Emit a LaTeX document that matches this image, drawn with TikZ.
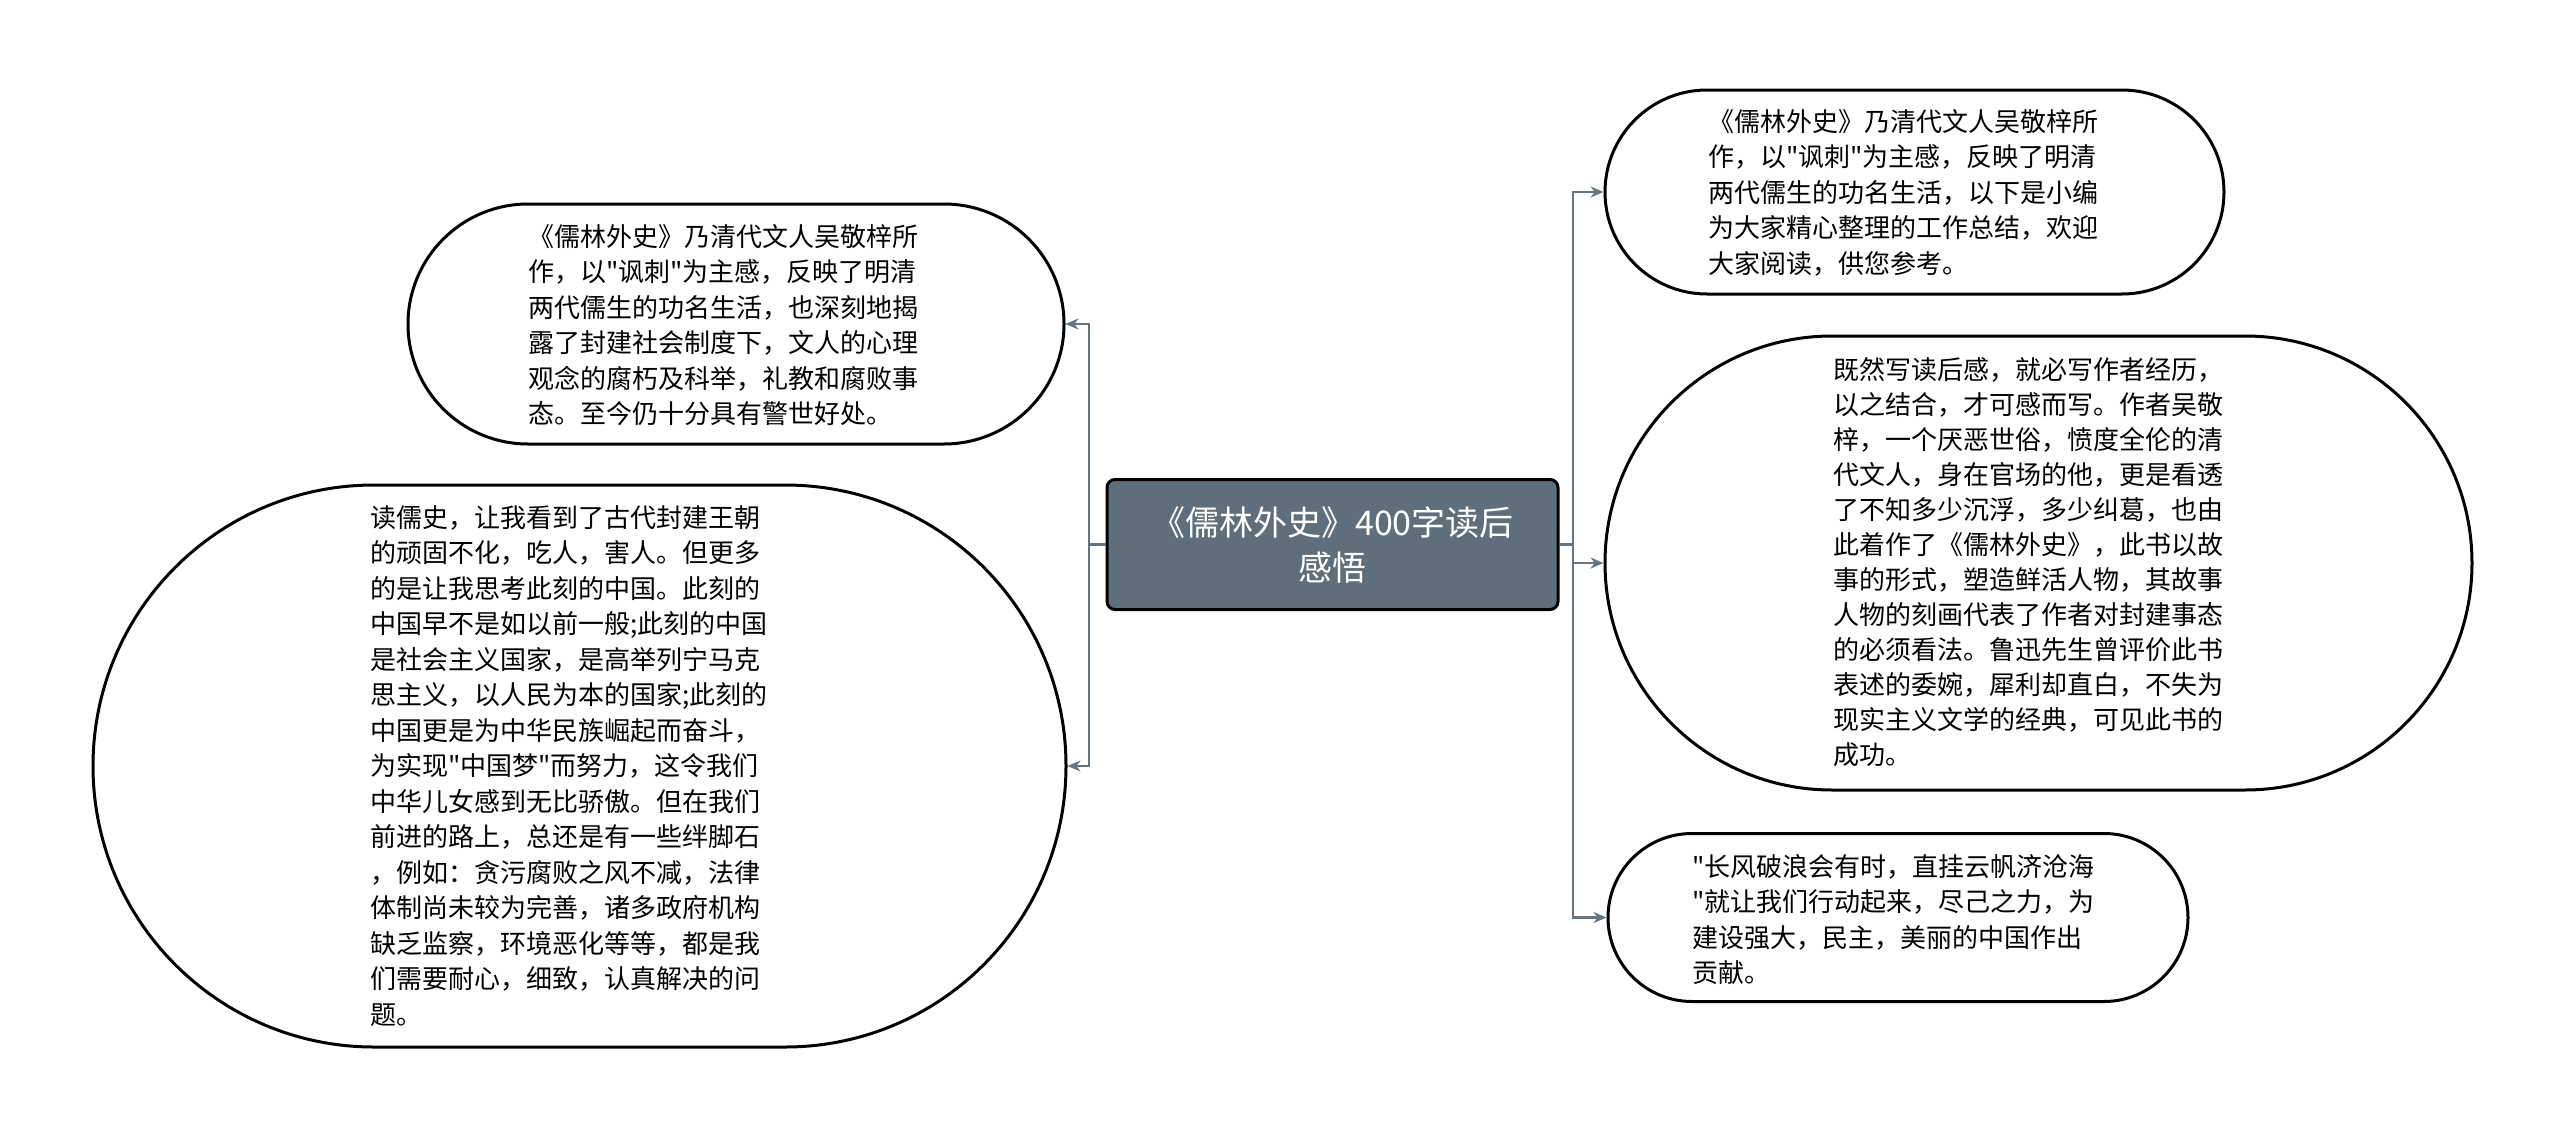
\documentclass[tikz,border=0pt]{standalone}
\usepackage{fontspec}
\setmainfont{Noto Sans CJK SC}[Ligatures=TeXOff]
\usetikzlibrary{shapes.misc,arrows.meta}
\definecolor{hub}{RGB}{94,110,122}
\definecolor{link}{RGB}{100,116,128}
\begin{document}
\begin{tikzpicture}[x=1pt,y=-1pt,
  bubble/.style={rounded rectangle, draw=black, line width=3pt, fill=white, inner sep=0pt},
  txt/.style={anchor=north west, inner sep=0pt, align=left, font=\fontsize{26}{35.5}\selectfont},
  conn/.style={draw=link, line width=2.5pt, -{Stealth[length=13pt,width=11pt]}},
  trunk/.style={draw=link, line width=2.5pt},
  hubbox/.style={rectangle, rounded corners=8pt, draw=black, line width=3pt, fill=hub, text=white,
    minimum width=451pt, minimum height=130pt, align=center, font=\fontsize{34}{45}\selectfont}
  ]
\useasboundingbox (0,0) rectangle (2560,1135);

\node[hubbox] (c) at (1332.5,544.5) {《儒林外史》400字读后\\感悟};

\node[bubble, minimum width=656pt, minimum height=240pt] (l1) at (736,324) {};
\node[txt] (l1t) at (528,224) {《儒林外史》乃清代文人吴敬梓所\\作，以"讽刺"为主感，反映了明清\\两代儒生的功名生活，也深刻地揭\\露了封建社会制度下，文人的心理\\观念的腐朽及科举，礼教和腐败事\\态。至今仍十分具有警世好处。};

\node[bubble, minimum width=973pt, minimum height=562pt] (l2) at (579.5,766) {};
\node[txt] (l2t) at (370,505) {读儒史，让我看到了古代封建王朝\\的顽固不化，吃人，害人。但更多\\的是让我思考此刻的中国。此刻的\\中国早不是如以前一般;此刻的中国\\是社会主义国家，是高举列宁马克\\思主义，以人民为本的国家;此刻的\\中国更是为中华民族崛起而奋斗，\\为实现"中国梦"而努力，这令我们\\中华儿女感到无比骄傲。但在我们\\前进的路上，总还是有一些绊脚石\\，例如：贪污腐败之风不减，法律\\体制尚未较为完善，诸多政府机构\\缺乏监察，环境恶化等等，都是我\\们需要耐心，细致，认真解决的问\\题。};

\node[bubble, minimum width=619pt, minimum height=204pt] (r1) at (1914.5,192) {};
\node[txt] (r1t) at (1708,109) {《儒林外史》乃清代文人吴敬梓所\\作，以"讽刺"为主感，反映了明清\\两代儒生的功名生活，以下是小编\\为大家精心整理的工作总结，欢迎\\大家阅读，供您参考。};

\node[bubble, minimum width=867pt, minimum height=454pt] (r2) at (2038.5,563) {};
\node[txt, font=\fontsize{26}{35}\selectfont] (r2t) at (1833,357) {既然写读后感，就必写作者经历，\\以之结合，才可感而写。作者吴敬\\梓，一个厌恶世俗，愤度全伦的清\\代文人，身在官场的他，更是看透\\了不知多少沉浮，多少纠葛，也由\\此着作了《儒林外史》，此书以故\\事的形式，塑造鲜活人物，其故事\\人物的刻画代表了作者对封建事态\\的必须看法。鲁迅先生曾评价此书\\表述的委婉，犀利却直白，不失为\\现实主义文学的经典，可见此书的\\成功。};

\node[bubble, minimum width=580pt, minimum height=168pt] (r3) at (1898,917.5) {};
\node[txt] (r3t) at (1692,854) {"长风破浪会有时，直挂云帆济沧海\\"就让我们行动起来，尽己之力，为\\建设强大，民主，美丽的中国作出\\贡献。};

\coordinate (lj) at (1089,544.5);
\coordinate (rj) at (1573,544.5);
\draw[trunk] (c.west) -- (lj);
\draw[conn] (lj) |- (l1.east);
\draw[conn] (lj) |- (l2.east);
\draw[trunk] (c.east) -- (rj);
\draw[conn] (rj) |- (r1.west);
\draw[conn] (rj) |- (r2.west);
\draw[conn] (rj) |- (r3.west);
\end{tikzpicture}
\end{document}
